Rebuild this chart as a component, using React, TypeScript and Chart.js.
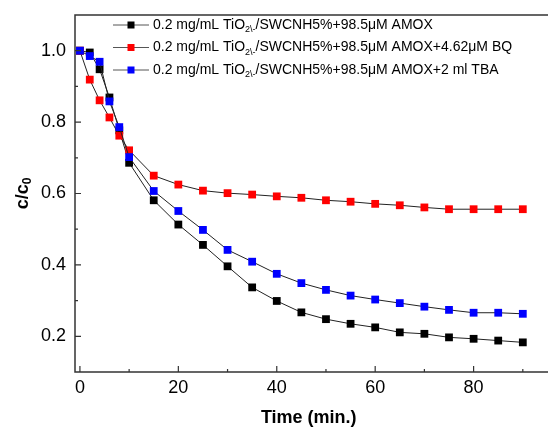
import React, { useEffect, useRef } from "react";
import { Chart, registerables } from "chart.js";
Chart.register(...registerables);

const times = [0, 2, 4, 6, 8, 10, 15, 20, 25, 30, 35, 40, 45, 50, 55, 60, 65, 70, 75, 80, 85, 90];
const amox = [1.0, 0.995, 0.948, 0.869, 0.777, 0.686, 0.581, 0.513, 0.456, 0.396, 0.337, 0.299, 0.267, 0.248, 0.235, 0.225, 0.211, 0.207, 0.197, 0.193, 0.188, 0.183];
const amoxBQ = [1.0, 0.919, 0.861, 0.813, 0.762, 0.721, 0.65, 0.625, 0.608, 0.601, 0.597, 0.592, 0.588, 0.581, 0.577, 0.571, 0.567, 0.561, 0.556, 0.556, 0.556, 0.556];
const amoxTBA = [1.0, 0.985, 0.969, 0.858, 0.786, 0.702, 0.607, 0.551, 0.498, 0.442, 0.409, 0.375, 0.349, 0.33, 0.314, 0.303, 0.293, 0.283, 0.274, 0.266, 0.266, 0.263];

const labelPrefix = "0.2 mg/mL TiO";
const labelSub = "2\\-";
const labelSuffixes = [
  "/SWCNH5%+98.5\u03bcM AMOX",
  "/SWCNH5%+98.5\u03bcM AMOX+4.62\u03bcM BQ",
  "/SWCNH5%+98.5\u03bcM AMOX+2 ml TBA",
];
const seriesColors = ["#000000", "#ff0000", "#0000ff"];

const xTicks = [0, 20, 40, 60, 80];
const xMinor = [10, 30, 50, 70, 90];
const yTicks = [0.2, 0.4, 0.6, 0.8, 1.0];
const yMinor = [0.3, 0.5, 0.7, 0.9];

const FONT = "'Liberation Sans', Arial, sans-serif";

const framePlugin = {
  id: "frameAndLegend",
  afterDraw(chart: any) {
    const ctx = chart.ctx;
    const { left, top, bottom } = chart.chartArea;
    const W = chart.width;
    const xs = chart.scales.x;
    const ys = chart.scales.y;
    ctx.save();
    ctx.strokeStyle = "#333";
    ctx.lineWidth = 1.5;
    ctx.beginPath();
    ctx.moveTo(W + 2, top);
    ctx.lineTo(left, top);
    ctx.lineTo(left, bottom);
    ctx.lineTo(W + 2, bottom);
    ctx.stroke();
    ctx.lineWidth = 1.2;
    ctx.beginPath();
    xTicks.forEach((v) => {
      const p = xs.getPixelForValue(v);
      ctx.moveTo(p, bottom);
      ctx.lineTo(p, bottom - 6);
    });
    xMinor.forEach((v) => {
      const p = xs.getPixelForValue(v);
      ctx.moveTo(p, bottom);
      ctx.lineTo(p, bottom - 3);
    });
    yTicks.forEach((v) => {
      const p = ys.getPixelForValue(v);
      ctx.moveTo(left, p);
      ctx.lineTo(left + 6, p);
    });
    yMinor.forEach((v) => {
      const p = ys.getPixelForValue(v);
      ctx.moveTo(left, p);
      ctx.lineTo(left + 3, p);
    });
    ctx.stroke();

    // legend
    const rowsY = [25, 47.5, 70];
    rowsY.forEach((ry, i) => {
      ctx.strokeStyle = "#555";
      ctx.lineWidth = 1;
      ctx.beginPath();
      ctx.moveTo(113, ry);
      ctx.lineTo(149, ry);
      ctx.stroke();
      ctx.fillStyle = seriesColors[i];
      ctx.fillRect(131 - 3.5, ry - 3.5, 7, 7);
      ctx.fillStyle = "#000";
      ctx.textBaseline = "middle";
      ctx.textAlign = "left";
      ctx.font = `14px ${FONT}`;
      let x = 153;
      ctx.fillText(labelPrefix, x, ry);
      x += ctx.measureText(labelPrefix).width;
      ctx.font = `9px ${FONT}`;
      ctx.fillText(labelSub, x, ry + 5);
      x += ctx.measureText(labelSub).width;
      ctx.font = `14px ${FONT}`;
      ctx.fillText(labelSuffixes[i], x, ry);
    });

    // y title
    ctx.save();
    ctx.translate(23, (top + bottom) / 2);
    ctx.rotate(-Math.PI / 2);
    ctx.fillStyle = "#000";
    ctx.textBaseline = "middle";
    ctx.font = `bold 18px ${FONT}`;
    const main = "c/c";
    const mw = ctx.measureText(main).width;
    ctx.font = `bold 12px ${FONT}`;
    const sw = ctx.measureText("0").width;
    const sx = -(mw + sw) / 2;
    ctx.textAlign = "left";
    ctx.font = `bold 18px ${FONT}`;
    ctx.fillText(main, sx, 0);
    ctx.font = `bold 12px ${FONT}`;
    ctx.fillText("0", sx + mw, 5);
    ctx.restore();

    ctx.restore();
  },
};

export default function App() {
  const ref = useRef<HTMLCanvasElement | null>(null);
  useEffect(() => {
    if (!ref.current) return;
    const mk = (vals: number[]) => times.map((t, i) => ({ x: t, y: vals[i] }));
    const ds = (vals: number[], i: number, order: number) => ({
      label: labelPrefix + labelSub + labelSuffixes[i],
      data: mk(vals),
      showLine: true,
      borderColor: "#222",
      borderWidth: 1,
      pointStyle: "rect",
      pointRadius: 5.5,
      pointBorderWidth: 0,
      pointBackgroundColor: seriesColors[i],
      pointBorderColor: seriesColors[i],
      order,
    });
    const chart = new Chart(ref.current, {
      type: "scatter",
      data: {
        datasets: [ds(amox, 0, 3), ds(amoxBQ, 1, 2), ds(amoxTBA, 2, 1)],
      },
      options: {
        responsive: false,
        animation: false,
        clip: false,
        layout: { padding: { top: 15, right: 0, left: 0, bottom: 0 } },
        plugins: { legend: { display: false }, tooltip: { enabled: false } },
        scales: {
          x: {
            type: "linear",
            min: -1,
            max: 94,
            grid: { display: false, drawTicks: false },
            border: { display: false },
            afterBuildTicks: (s: any) => {
              s.ticks = xTicks.map((v) => ({ value: v }));
            },
            afterFit: (s: any) => {
              s.height = 58;
              s.paddingLeft = 0;
              s.paddingRight = 0;
            },
            ticks: {
              padding: 5,
              color: "#000",
              font: { family: FONT, size: 18 },
              maxRotation: 0,
            },
            title: {
              display: true,
              text: "Time (min.)",
              color: "#000",
              font: { family: FONT, size: 18, weight: "bold" },
              padding: { top: 0, bottom: 1 },
            },
          },
          y: {
            type: "linear",
            min: 0.1,
            max: 1.1,
            grid: { display: false, drawTicks: false },
            border: { display: false },
            afterBuildTicks: (s: any) => {
              s.ticks = yTicks.map((v) => ({ value: v }));
            },
            afterFit: (s: any) => {
              s.width = 75;
              s.paddingTop = 0;
              s.paddingBottom = 0;
            },
            ticks: {
              padding: 9,
              color: "#000",
              font: { family: FONT, size: 18 },
              callback: (v: any) => Number(v).toFixed(1),
            },
          },
        },
      },
      plugins: [framePlugin],
    } as any);
    return () => chart.destroy();
  }, []);
  return (
    <div style={{ position: "absolute", left: 0, top: 0, width: 548, height: 430 }}>
      <canvas ref={ref} width={548} height={430} style={{ width: 548, height: 430 }} />
    </div>
  );
}
